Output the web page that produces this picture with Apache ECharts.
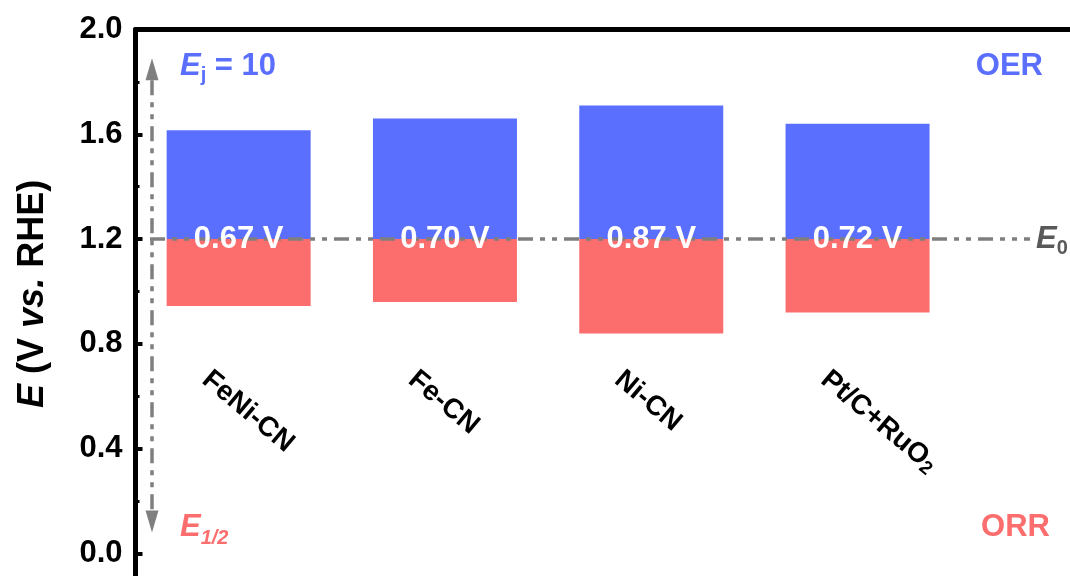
<!DOCTYPE html>
<html>
<head>
<meta charset="utf-8">
<script src="https://cdn.jsdelivr.net/npm/echarts@6/dist/echarts.min.js"></script>
<style>
  html, body { margin: 0; padding: 0; background: #fff; }
  #chart { width: 1070px; height: 576px; }
</style>
</head>
<body>
<div id="chart"></div>
<script>
// Catalysts and their potentials (V vs. RHE)
const categories = ['FeNi-CN', 'Fe-CN', 'Ni-CN', 'Pt/C+RuO2'];
const oerPotential = [1.615, 1.66, 1.71, 1.64];   // E_j=10 (OER)
const orrPotential = [0.945, 0.96, 0.84, 0.92];   // E_1/2 (ORR)
const E0 = 1.2;                                   // reference line E_0
const yMin = -0.4, yMax = 2.0, yStep = 0.4;

const FONT = 'Arial, "Liberation Sans", sans-serif';
const BLUE = '#5B6FFF';
const RED = '#FC6E6E';
const GREY = '#7F7F7F';
const DASH = [15, 7, 5, 7, 5, 7];

const gridLeft = 135.5, gridTop = 29.5, band = 206.3, unitPx = 262;
// an empty trailing slot lets the frame run on to the right edge
const slots = categories.concat(['']);

const chart = echarts.init(document.getElementById('chart'), null, { renderer: 'canvas' });

chart.setOption({
  animation: false,
  backgroundColor: '#fff',
  grid: [
    { left: gridLeft, top: gridTop, width: band * slots.length, height: (yMax - yMin) * unitPx, outerBoundsMode: 'none' },
    { left: gridLeft - 33, top: 0, width: band * categories.length, height: 376, outerBoundsMode: 'none' }
  ],
  xAxis: [
    {
      type: 'category', gridIndex: 0, data: slots, position: 'top',
      axisLine: { show: true, onZero: false, lineStyle: { color: '#000', width: 5 } },
      axisTick: { show: false }, axisLabel: { show: false }, splitLine: { show: false }
    },
    {
      type: 'category', gridIndex: 1, data: categories, position: 'bottom',
      axisLine: { show: false, onZero: false }, axisTick: { show: false }, splitLine: { show: false },
      axisLabel: {
        interval: 0, rotate: -40, margin: 0,
        fontFamily: FONT, fontSize: 28, fontWeight: 'bold', color: '#000',
        formatter: v => v.replace(/O2$/, 'O{sub|2}'),
        rich: { sub: { fontFamily: FONT, fontSize: 19, fontWeight: 'bold', color: '#000', padding: [12, 0, 0, 0] } }
      }
    }
  ],
  yAxis: [
    {
      type: 'value', gridIndex: 0, min: yMin, max: yMax, interval: yStep,
      axisLine: { show: true, lineStyle: { color: '#000', width: 5 } },
      axisTick: { show: true, inside: true, length: 7, lineStyle: { color: '#000', width: 4 } },
      minorTick: { show: true, splitNumber: 2, length: 4, lineStyle: { color: '#000', width: 3 } },
      splitLine: { show: false },
      axisLabel: {
        margin: 13, fontFamily: FONT, fontSize: 31, fontWeight: 'bold', color: '#000',
        formatter: v => v.toFixed(1)
      },
      name: '{i|E} (V {i|vs.} RHE)',
      nameLocation: 'middle', nameRotate: 90, nameGap: 84, nameMoveOverlap: false,
      nameTextStyle: {
        fontFamily: FONT, fontSize: 36, fontWeight: 'bold', color: '#000',
        padding: [0, 0, 0, 100],
        rich: { i: { fontFamily: FONT, fontSize: 36, fontWeight: 'bold', fontStyle: 'italic', color: '#000' } }
      }
    },
    { type: 'value', gridIndex: 1, show: false }
  ],
  series: [
    {
      name: 'base', type: 'bar', stack: 'E', barWidth: 144, silent: true,
      data: orrPotential, itemStyle: { color: 'rgba(0,0,0,0)' }
    },
    {
      name: 'ORR', type: 'bar', stack: 'E', barWidth: 144,
      data: orrPotential.map(v => E0 - v), itemStyle: { color: RED }
    },
    {
      name: 'OER', type: 'bar', stack: 'E', barWidth: 144,
      data: oerPotential.map(v => v - E0), itemStyle: { color: BLUE }
    },
    {
      name: 'gap', type: 'scatter', z: 10, symbolSize: 1,
      itemStyle: { color: 'rgba(0,0,0,0)' },
      data: categories.map((c, i) => [i, E0, oerPotential[i] - orrPotential[i]]),
      label: {
        show: true, position: 'inside', opacity: 1,
        formatter: p => p.value[2].toFixed(2) + ' V',
        color: '#fff', textBorderWidth: 0, textShadowBlur: 0,
        fontFamily: FONT, fontSize: 31, fontWeight: 'bold'
      }
    }
  ]
});

// Annotations: the E_0 line, the double arrow and the corner labels
const yPx = v => chart.convertToPixel({ yAxisIndex: 0 }, v);
const arrowX = gridLeft + 16.5;
const upTip = yPx(1.89), downTip = yPx(0.08);
const headLen = 22, headHalf = 6.5;
const e0y = yPx(E0);

function subLabel(main, sub, color, subPad, subItalic) {
  return {
    text: '{e|' + main + '}{s|' + sub + '}',
    rich: {
      e: { fontFamily: FONT, fontSize: 31, fontWeight: 'bold', fontStyle: 'italic', fill: color, lineHeight: 31 },
      s: { fontFamily: FONT, fontSize: 20, fontWeight: 'bold', fontStyle: subItalic ? 'italic' : 'normal', fill: color, lineHeight: 20, padding: [subPad, 0, 0, 0] }
    },
    fill: color, align: 'left', verticalAlign: 'middle'
  };
}

chart.setOption({
  graphic: [
    {
      type: 'line', z: 5, silent: true,
      shape: { x1: arrowX, y1: upTip + headLen, x2: arrowX, y2: downTip - headLen },
      style: { stroke: GREY, lineWidth: 3.5, lineDash: DASH }
    },
    {
      type: 'polygon', z: 5, silent: true,
      shape: { points: [[arrowX, upTip], [arrowX - headHalf, upTip + headLen], [arrowX + headHalf, upTip + headLen]] },
      style: { fill: GREY }
    },
    {
      type: 'polygon', z: 5, silent: true,
      shape: { points: [[arrowX, downTip], [arrowX - headHalf, downTip - headLen], [arrowX + headHalf, downTip - headLen]] },
      style: { fill: GREY }
    },
    {
      type: 'line', z: 5, silent: true,
      shape: { x1: arrowX - 2, y1: e0y, x2: 1030, y2: e0y },
      style: { stroke: GREY, lineWidth: 3.5, lineDash: DASH }
    },
    {
      type: 'text', z: 6, silent: true, x: 180, y: yPx(1.86),
      style: {
        text: '{e|E}{s|j}{m| = 10}',
        rich: {
          e: { fontFamily: FONT, fontSize: 31, fontWeight: 'bold', fontStyle: 'italic', fill: BLUE, lineHeight: 31 },
          s: { fontFamily: FONT, fontSize: 20, fontWeight: 'bold', fill: BLUE, lineHeight: 20, padding: [18, 0, 0, 0] },
          m: { fontFamily: FONT, fontSize: 31, fontWeight: 'bold', fill: BLUE, lineHeight: 31 }
        },
        fill: BLUE, align: 'left', verticalAlign: 'middle'
      }
    },
    {
      type: 'text', z: 6, silent: true, x: 1043, y: yPx(1.86),
      style: { text: 'OER', fontFamily: FONT, fontSize: 31, fontWeight: 'bold', fill: BLUE, align: 'right', verticalAlign: 'middle' }
    },
    {
      type: 'text', z: 6, silent: true, x: 1050, y: yPx(0.1),
      style: { text: 'ORR', fontFamily: FONT, fontSize: 31, fontWeight: 'bold', fill: RED, align: 'right', verticalAlign: 'middle' }
    },
    { type: 'text', z: 6, silent: true, x: 180, y: yPx(0.1), style: subLabel('E', '1/2', RED, 22, true) },
    { type: 'text', z: 6, silent: true, x: 1036, y: e0y, style: subLabel('E', '0', '#595959', 18, false) }
  ]
});
</script>
</body>
</html>
